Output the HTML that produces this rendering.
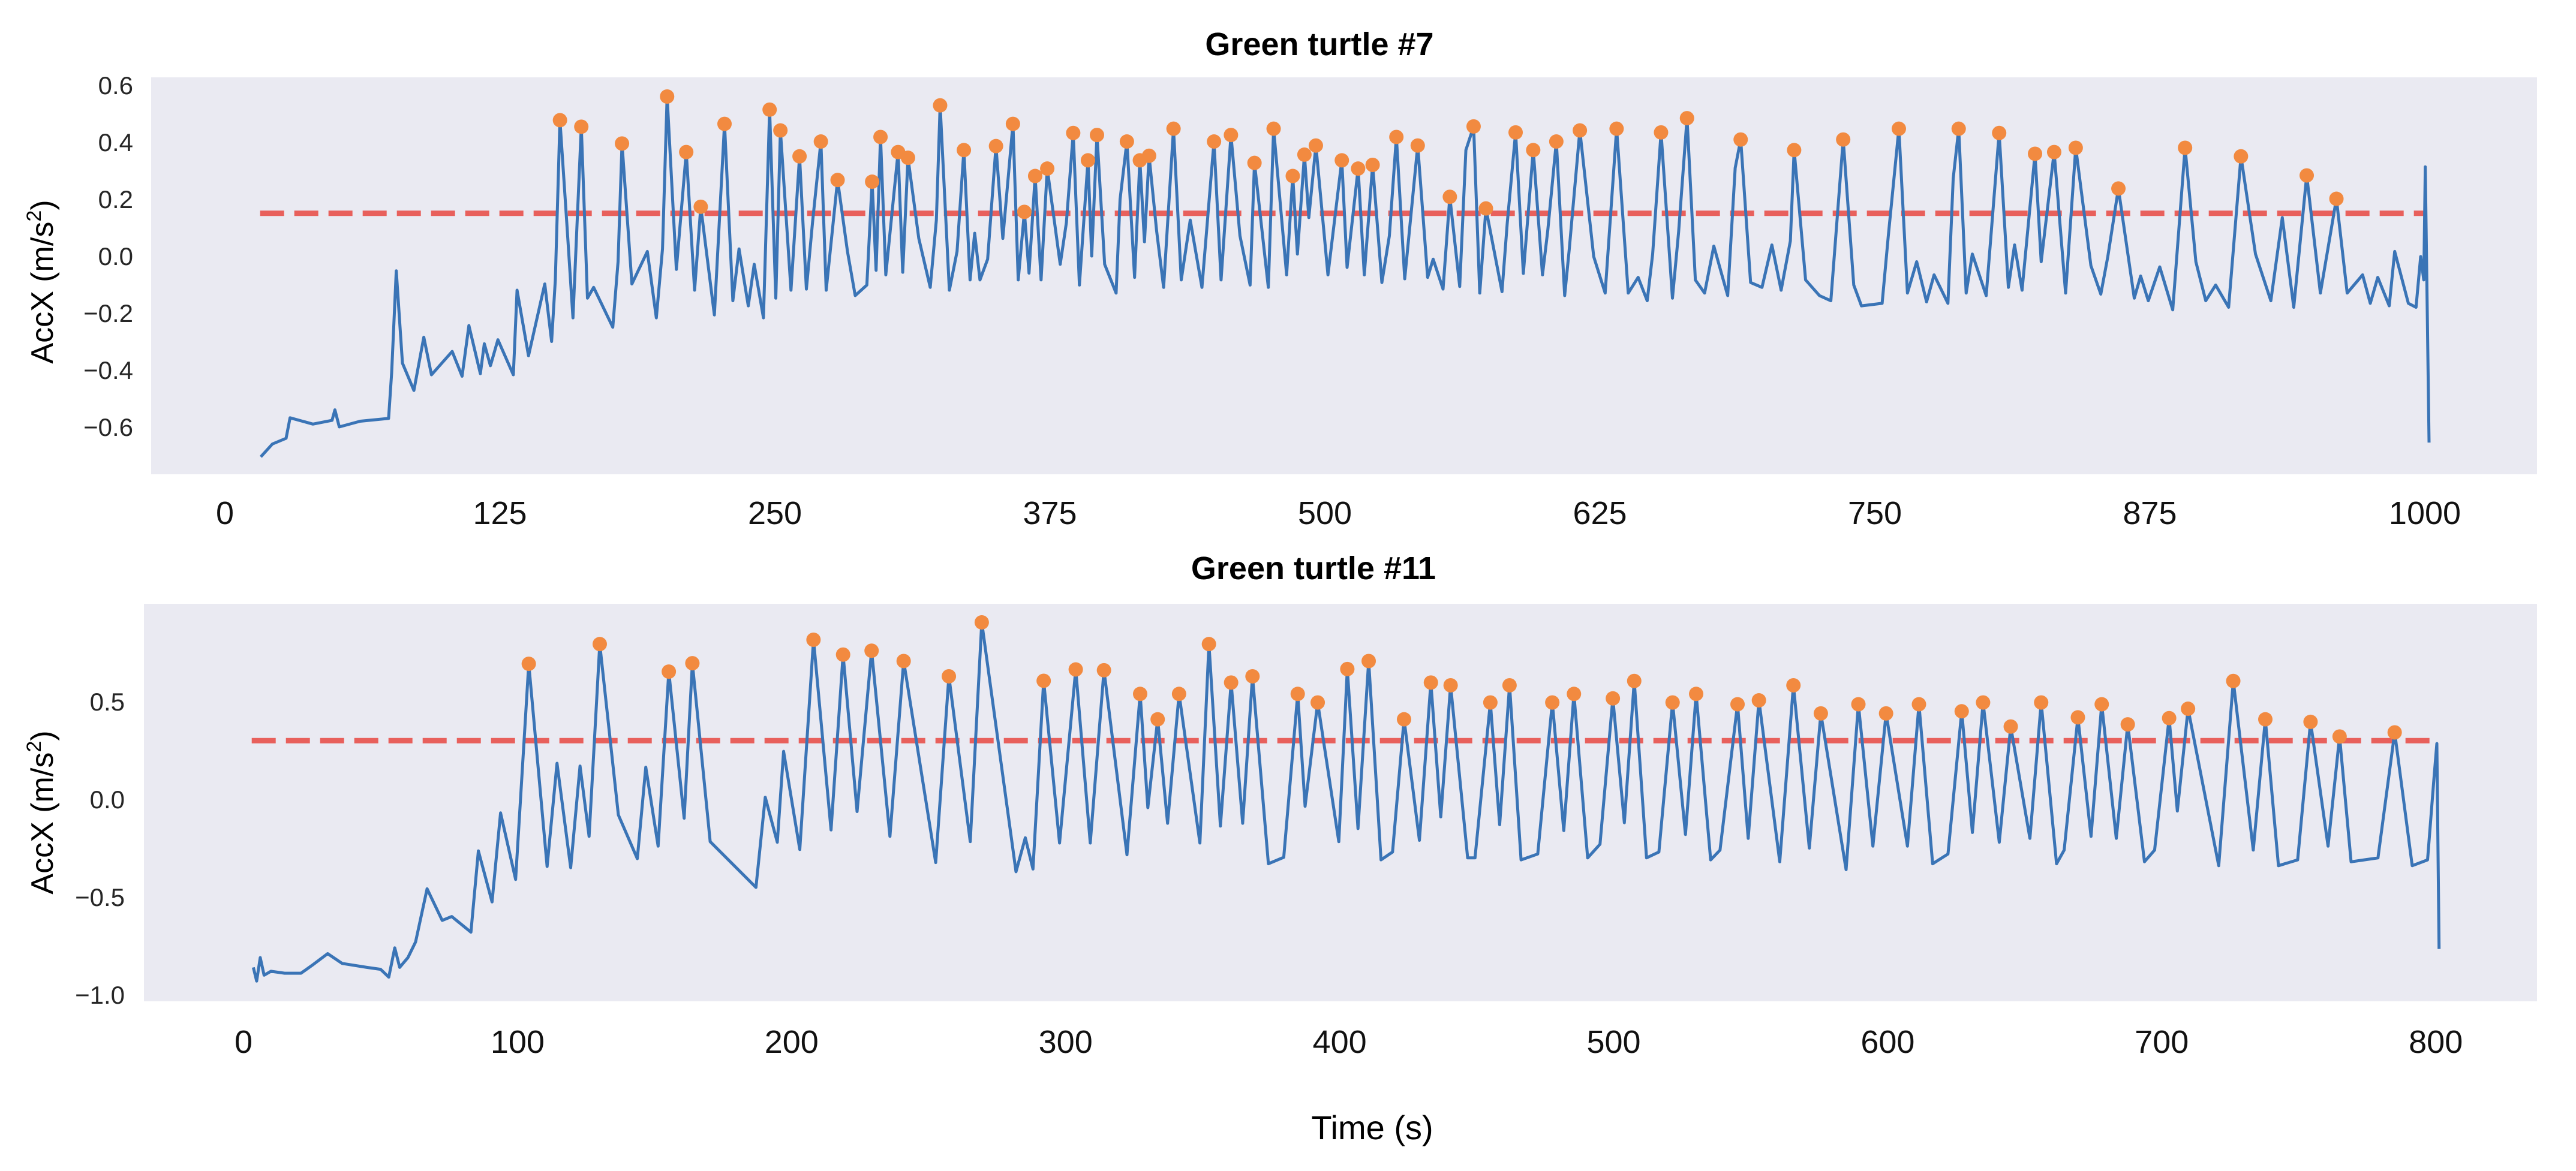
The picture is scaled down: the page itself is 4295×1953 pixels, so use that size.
<!DOCTYPE html>
<html><head><meta charset="utf-8">
<style>
html,body{margin:0;padding:0;background:#fff;}
svg{display:block;font-family:"Liberation Sans",sans-serif;}
</style></head>
<body>
<svg id="fig" width="4295" height="1953" viewBox="0 0 4295 1953" xmlns="http://www.w3.org/2000/svg">
<rect x="0" y="0" width="4295" height="1953" fill="#ffffff"/>
<rect x="252" y="129" width="3978" height="662" fill="#eaeaf2"/>
<rect x="240" y="1007" width="3990" height="663" fill="#eaeaf2"/>
<text x="2200" y="92" font-size="54" font-weight="bold" text-anchor="middle">Green turtle #7</text>
<text x="2190" y="966" font-size="54" font-weight="bold" text-anchor="middle">Green turtle #11</text>
<text transform="translate(88,470) rotate(-90)" font-size="52" text-anchor="middle">AccX (m/s<tspan font-size="34" dy="-20">2</tspan><tspan dy="20">)</tspan></text>
<text transform="translate(88,1355) rotate(-90)" font-size="52" text-anchor="middle">AccX (m/s<tspan font-size="34" dy="-20">2</tspan><tspan dy="20">)</tspan></text>
<text x="2288" y="1900" font-size="56" text-anchor="middle">Time (s)</text>
<g id="g7"></g>
<g id="g11"></g>
</svg>
<script>
// ---------- Green turtle #7 data ----------
const lineTime7 = [16.3,21.6,27.8,29.6,40,48.7,50,52,61.5,74.4,75.8,77.9,80.7,85.9,90.4,93.9,103.3,107.8,110.9,116.1,117.9,120.7,124.1,131.1,132.8,138,145.4,148.5,150.2,152.3,155.4,158.2,162,164.8,167.6,176.3,178.7,180.5,185,192,196.1,198.9,201,205.2,209.7,213.5,216.3,222.5,227.1,230.9,233.7,237.9,240.6,244.8,247.6,250.4,252.5,257.3,261.2,264.3,267.1,270.9,273.3,278.5,283,286.5,291.8,294.2,296,298,300.4,306,308.1,310.5,315.4,320.6,323.4,325.1,329.3,332.8,335.9,338.7,340.8,343.2,346.7,350.5,353.6,358.2,360.6,363.4,365.5,368.3,371,373.8,379.7,382.5,385.6,388.4,392.3,394,396.4,399.9,405.1,406.9,410,413.5,415.9,418,420.1,423.5,426.7,431.2,434.7,438.8,444.1,449.6,452.8,457.3,461.4,466,468,474.3,476.7,482.6,485.4,487.5,490.7,492.7,495.9,501.4,507.7,510.1,515.1,517.9,521.7,525.9,529.3,532.5,536.3,542.2,546.7,549.2,553.7,556.8,561.3,564.1,567.6,570.4,573.2,580.5,582.9,586.7,590.2,594.7,598.9,601.3,605.2,609,611.1,615.9,622.2,627.4,632.6,637.9,642.4,646.5,649,652.8,658,660.8,664.6,668.4,672.6,676.8,683.1,686.5,689,693.5,698.7,703.2,707.4,711.6,713.3,718.5,724.8,730,735.6,740.4,743.9,753.3,756.1,760.9,764.8,769,773.5,776.9,783.2,785.6,788.1,791.5,794.3,800.6,806.5,810.7,813.5,816.9,822.8,825.6,831.5,836.7,841.3,848.2,852.7,855.9,860.7,867.9,870.8,874.3,879.5,885.4,891,895.9,900.4,904.9,910.8,916.4,923,930,935.2,940.4,946.3,952.5,959.8,964.7,971.7,975.2,978.6,983.8,986.3,992.5,996,998.1,999.5,1000.2,1001.9];
const lineAcc7 = [-0.705,-0.66,-0.64,-0.568,-0.59,-0.577,-0.54,-0.6,-0.58,-0.57,-0.41,-0.052,-0.376,-0.472,-0.285,-0.417,-0.335,-0.422,-0.244,-0.413,-0.308,-0.385,-0.294,-0.417,-0.12,-0.35,-0.098,-0.30,-0.084,0.477,0.117,-0.217,0.454,-0.148,-0.11,-0.25,-0.02,0.395,-0.098,0.016,-0.217,0.025,0.56,-0.047,0.365,-0.12,0.173,-0.207,0.464,-0.157,0.025,-0.175,-0.029,-0.217,0.514,-0.148,0.441,-0.12,0.35,-0.116,0.117,0.402,-0.12,0.267,0.016,-0.139,-0.102,0.261,-0.05,0.418,-0.066,0.365,-0.057,0.345,0.062,-0.11,0.126,0.529,-0.12,0.016,0.372,-0.084,0.08,-0.084,-0.011,0.386,0.062,0.464,-0.084,0.155,-0.06,0.281,-0.084,0.307,-0.029,0.117,0.432,-0.102,0.336,0.0,0.425,-0.029,-0.13,0.199,0.402,-0.075,0.336,0.05,0.352,0.089,-0.11,0.447,-0.084,0.126,-0.11,0.402,-0.084,0.425,0.071,-0.102,0.327,-0.11,0.447,-0.066,0.281,0.007,0.356,0.135,0.388,-0.066,0.336,-0.04,0.307,-0.066,0.32,-0.093,0.071,0.418,-0.08,0.388,-0.075,-0.011,-0.116,0.208,-0.107,0.372,0.455,-0.13,0.167,-0.125,0.117,0.434,-0.061,0.372,-0.066,0.089,0.402,-0.139,0.025,0.441,-0.002,-0.13,0.447,-0.13,-0.075,-0.157,0.007,0.434,-0.148,0.085,0.484,-0.084,-0.13,0.035,-0.139,0.309,0.409,-0.093,-0.11,0.039,-0.12,0.053,0.372,-0.084,-0.139,-0.157,0.409,-0.102,-0.175,-0.166,0.071,0.447,-0.13,-0.02,-0.161,-0.066,-0.166,0.272,0.447,-0.13,0.007,-0.139,0.432,-0.11,0.039,-0.12,0.359,-0.02,0.365,-0.13,0.38,-0.034,-0.134,-0.002,0.237,-0.148,-0.07,-0.157,-0.038,-0.189,0.38,-0.02,-0.157,-0.102,-0.18,0.35,0.007,-0.157,0.135,-0.18,0.283,-0.13,0.201,-0.13,-0.066,-0.166,-0.075,-0.175,0.016,-0.166,-0.18,-0.002,-0.084,0.313,-0.655];
const peakTime7 = [152.3,162,180.5,201,209.7,216.3,227.1,247.6,252.5,261.2,270.9,278.5,294.2,298,306,310.5,325.1,335.9,350.5,358.2,363.4,368.3,373.8,385.6,392.3,396.4,410,415.9,420.1,431.2,449.6,457.3,468,476.7,485.4,490.7,495.9,507.7,515.1,521.7,532.5,542.2,556.8,567.6,573.2,586.7,594.7,605.2,615.9,632.6,652.8,664.6,689,713.3,735.6,760.9,788.1,806.5,822.8,831.5,841.3,860.7,891,916.4,946.3,959.8];
const peakAcc7 = [0.477,0.454,0.395,0.56,0.365,0.173,0.464,0.514,0.441,0.35,0.402,0.267,0.261,0.418,0.365,0.345,0.529,0.372,0.386,0.464,0.155,0.281,0.307,0.432,0.336,0.425,0.402,0.336,0.352,0.447,0.402,0.425,0.327,0.447,0.281,0.356,0.388,0.336,0.307,0.32,0.418,0.388,0.208,0.455,0.167,0.434,0.372,0.402,0.441,0.447,0.434,0.484,0.409,0.372,0.409,0.447,0.447,0.432,0.359,0.365,0.38,0.237,0.38,0.35,0.283,0.201];
const threshold7 = [0.15];
const thresholdSpan7 = [16, 1000];
const yTicks7 = [0.6,0.4,0.2,0.0,-0.2,-0.4,-0.6];
const xTicks7 = [0,125,250,375,500,625,750,875,1000];

// ---------- Green turtle #11 data ----------
const lineTime11 = [3.6,4.8,6.1,7.5,10,15,21,25,30.7,36,45,50,53,55.2,57,60,62.8,67,72.5,76,83,85.7,90.7,93.8,99.3,104.1,110.8,114.4,119.4,122.8,126.1,130,136.8,143.7,146.8,151.3,155.2,160.8,163.8,170.3,187,190.4,194.8,197.1,203,208,214.4,218.8,223.9,229.2,235.9,240.9,252.6,257.4,265.2,269.4,281.9,285.3,288.1,292,297.8,303.7,309,314,322.4,327.2,330,333.6,337.2,341.4,349,352.3,356.5,360.4,364.6,368.2,374,379.6,384.7,387.4,392,399.7,402.8,406.7,410.6,415.1,419.3,423.5,429.1,433.3,436.9,440.5,446.7,449.4,455,458.4,462,466.2,472.3,477.6,481.8,485.5,490.5,495,499.7,503.9,507.5,512,516.5,521.5,526.2,530.1,535.4,538.8,545.2,549.1,553,560.6,565.6,571.4,575.6,584.8,589.3,594.6,599.4,607.2,611.4,616.4,622,627,630.9,634.8,640.7,644.9,651.9,656,661.6,664.4,669.4,674.2,678.1,683.4,687.6,693.7,697.4,702.7,705.7,709.6,720.8,726.1,733.4,737.8,742.6,749.6,754.3,760.7,764.9,769.1,778.9,785,791.4,797,799.3,800.4,801.2];
const lineAcc11 = [-0.86,-0.93,-0.81,-0.90,-0.88,-0.89,-0.89,-0.85,-0.79,-0.84,-0.86,-0.87,-0.91,-0.76,-0.86,-0.81,-0.73,-0.458,-0.62,-0.60,-0.68,-0.264,-0.525,-0.07,-0.41,0.693,-0.344,0.184,-0.35,0.17,-0.19,0.794,-0.08,-0.304,0.164,-0.24,0.653,-0.097,0.696,-0.217,-0.451,0.01,-0.22,0.245,-0.257,0.816,-0.157,0.74,-0.063,0.76,-0.19,0.707,-0.324,0.629,-0.217,0.905,-0.371,-0.197,-0.357,0.606,-0.224,0.664,-0.224,0.66,-0.284,0.539,-0.043,0.409,-0.123,0.539,-0.224,0.794,-0.137,0.597,-0.123,0.629,-0.33,-0.297,0.539,-0.036,0.495,-0.217,0.666,-0.15,0.707,-0.31,-0.27,0.409,-0.21,0.597,-0.09,0.583,-0.30,-0.30,0.495,-0.13,0.583,-0.31,-0.28,0.495,-0.16,0.539,-0.30,-0.23,0.516,-0.12,0.605,-0.30,-0.27,0.495,-0.18,0.539,-0.31,-0.26,0.486,-0.20,0.506,-0.32,0.583,-0.25,0.439,-0.36,0.486,-0.24,0.439,-0.24,0.486,-0.33,-0.28,0.45,-0.17,0.495,-0.22,0.372,-0.20,0.495,-0.33,-0.26,0.419,-0.19,0.486,-0.20,0.383,-0.32,-0.26,0.415,-0.06,0.463,-0.34,0.605,-0.26,0.409,-0.34,-0.31,0.396,-0.24,0.321,-0.32,-0.30,0.342,-0.34,-0.31,0.10,0.285,-0.766];
const peakTime11 = [104.1,130,155.2,163.8,208,218.8,229.2,240.9,257.4,269.4,292,303.7,314,327.2,333.6,341.4,352.3,360.4,368.2,384.7,392,402.8,410.6,423.5,433.3,440.5,455,462,477.6,485.5,499.7,507.5,521.5,530.1,545.2,553,565.6,575.6,589.3,599.4,611.4,627,634.8,644.9,656,669.4,678.1,687.6,702.7,709.6,726.1,737.8,754.3,764.9,785];
const peakAcc11 = [0.693,0.794,0.653,0.696,0.816,0.74,0.76,0.707,0.629,0.905,0.606,0.664,0.66,0.539,0.409,0.539,0.794,0.597,0.629,0.539,0.495,0.666,0.707,0.409,0.597,0.583,0.495,0.583,0.495,0.539,0.516,0.605,0.495,0.539,0.486,0.506,0.583,0.439,0.486,0.439,0.486,0.45,0.495,0.372,0.495,0.419,0.486,0.383,0.415,0.463,0.605,0.409,0.396,0.321,0.342];
const threshold11 = [0.3];
const thresholdSpan11 = [3, 800];
const yTicks11 = [0.5,0.0,-0.5,-1.0];
const xTicks11 = [0,100,200,300,400,500,600,700,800];

const NS = "http://www.w3.org/2000/svg";
function mk(tag, attrs, parent){
  const el = document.createElementNS(NS, tag);
  for (const k in attrs) el.setAttribute(k, attrs[k]);
  parent.appendChild(el);
  return el;
}
function fmt(v, d){ const s = Math.abs(v).toFixed(d); return (v < 0 ? "\u2212" : "") + s; }

function drawPanel(g, cfg){
  const X = cfg.x, Y = cfg.y;
  cfg.yTicks.forEach(v => {
    const t = mk("text", {x: cfg.yLabelX, y: Y(v) + 15, "font-size": 42, "text-anchor": "end", fill: "#262626"}, g);
    
    
    t.textContent = fmt(v, 1);
  });
  cfg.xTicks.forEach(v => {
    const t = mk("text", {x: X(v), y: cfg.xLabelY, "font-size": 54, "text-anchor": "middle", fill: "#111"}, g);
    
    
    t.textContent = String(v);
  });
  const th = mk("line", {x1: X(cfg.span[0]), x2: X(cfg.span[1]), y1: Y(cfg.thr), y2: Y(cfg.thr), stroke: "#e8605c", "stroke-width": 9, "stroke-dasharray": "40 17"}, g);
  
  
  let d = "";
  cfg.lt.forEach((t, i) => { d += (i ? "L" : "M") + X(t).toFixed(1) + " " + Y(cfg.lv[i]).toFixed(1); });
  const p = mk("path", {d: d, fill: "none", stroke: "#3a74b6", "stroke-width": 5, "stroke-linejoin": "round"}, g);
  
  
  cfg.pt.forEach((t, i) => {
    const c = mk("circle", {cx: X(t), cy: Y(cfg.pv[i]), r: 12, fill: "#f28a40"}, g);
    
    
  });
}

drawPanel(document.getElementById("g7"), {
  x: t => 375 + t * 3.668,
  y: v => 427 - v * 475,
  yTicks: yTicks7, xTicks: xTicks7, yLabelX: 222, xLabelY: 874,
  thr: threshold7[0], span: thresholdSpan7,
  lt: lineTime7, lv: lineAcc7, pt: peakTime7, pv: peakAcc7
});
drawPanel(document.getElementById("g11"), {
  x: t => 406 + t * 4.569,
  y: v => 1333 - v * 326,
  yTicks: yTicks11, xTicks: xTicks11, yLabelX: 208, xLabelY: 1756,
  thr: threshold11[0], span: thresholdSpan11,
  lt: lineTime11, lv: lineAcc11, pt: peakTime11, pv: peakAcc11
});
</script>
</body></html>
